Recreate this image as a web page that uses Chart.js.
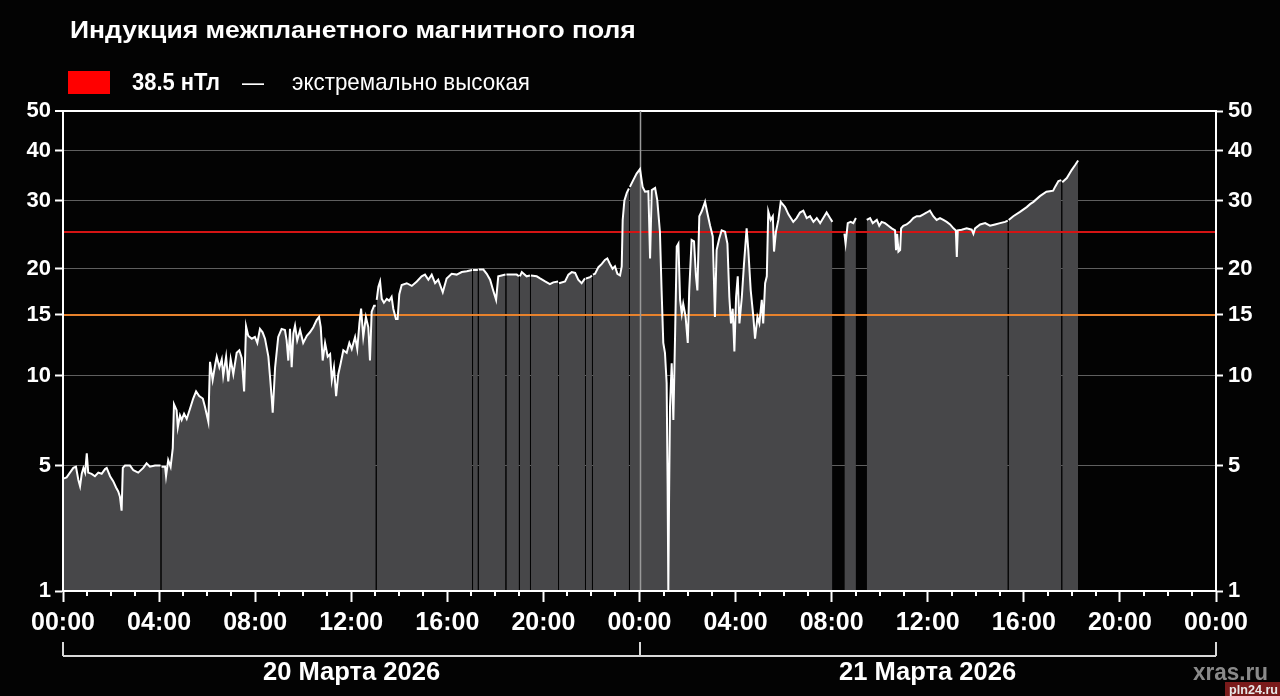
<!DOCTYPE html>
<html lang="ru">
<head>
<meta charset="utf-8">
<title>Индукция межпланетного магнитного поля</title>
<script src="https://cdn.jsdelivr.net/npm/chart.js@4.4.1/dist/chart.umd.min.js"></script>
<style>
html,body{margin:0;padding:0;background:#000;}
#wrap{position:relative;width:1280px;height:696px;overflow:hidden;background:#030303;
  font-family:"Liberation Sans",Arial,sans-serif;color:#fff;}
#wrap canvas{position:absolute;left:0;top:0;}
.t{position:absolute;line-height:1;white-space:nowrap;transform-origin:0 0;}
.b{font-weight:bold;}
#swatch{position:absolute;left:68px;top:71px;width:42px;height:23px;background:#ff0000;}
#pln{position:absolute;left:1225px;top:682px;width:55px;height:14px;background:#7a1b1b;}
</style>
</head>
<body>
<div id="wrap">
  <canvas id="imfChart" width="1280" height="696"></canvas>
  <div class="t b" id="title" style="left:70px;top:19px;font-size:23px" data-fit="566">Индукция межпланетного магнитного поля</div>
  <div id="swatch"></div>
  <div class="t b" id="current" style="left:132px;top:70px;font-size:24px" data-fit="88"></div>
  <div class="t" style="left:242px;top:70px;font-size:24px" data-fit="22">—</div>
  <div class="t" id="level" style="left:292px;top:70px;font-size:24px" data-fit="238"></div>
  <div class="t b" id="date1" style="left:263px;top:659px;font-size:25px" data-fit="177"></div>
  <div class="t b" id="date2" style="left:839px;top:659px;font-size:25px" data-fit="177"></div>
  <div class="t b" style="left:1193px;top:660px;font-size:24px;color:#8a8a8a" data-fit="75">xras.ru</div>
  <div id="pln"></div>
  <div class="t b" style="left:1229px;top:684px;font-size:12px;color:#e8e8e8" data-fit="49">pln24.ru</div>
</div>
<script>
/* ------------- ДАННЫЕ ------------- */
// [часы от 20.03.2026 00:00, нТл]; null = пропуск данных
const DAY1 = [
  [0.01,4.45],[0.15,4.5],[0.43,4.9],[0.54,4.95],[0.64,4.4],[0.71,4.15],[0.78,4.65],[0.85,4.9],[0.92,4.7],[0.99,5.55],
  [1.05,4.7],[1.19,4.65],[1.33,4.55],[1.47,4.7],[1.61,4.65],[1.75,4.85],[1.82,4.9],[1.96,4.55],[2.09,4.35],[2.21,4.1],
  [2.30,3.95],[2.37,3.75],[2.44,3.25],[2.49,4.9],[2.58,5.0],[2.79,5.0],[2.93,4.8],[3.13,4.7],[3.34,4.9],[3.48,5.1],
  [3.62,4.95],[3.83,5.0],[4.06,5.0],[4.08,null],[4.10,4.95],[4.25,4.95],[4.29,4.55],[4.38,5.25],[4.48,4.95],[4.57,5.8],
  [4.62,8.15],[4.73,7.8],[4.78,6.85],[4.87,7.5],[4.94,7.25],[5.04,7.6],[5.15,7.3],[5.29,7.9],[5.42,8.5],[5.54,8.95],
  [5.67,8.65],[5.82,8.5],[5.91,8.0],[6.05,7.15],[6.12,11.0],[6.23,9.7],[6.33,10.75],[6.40,11.4],[6.51,10.6],[6.61,11.2],
  [6.67,10.0],[6.79,11.4],[6.88,9.6],[6.98,11.2],[7.09,10.1],[7.23,11.7],[7.34,11.9],[7.44,11.3],[7.54,8.95],[7.62,13.95],
  [7.71,13.1],[7.86,12.85],[7.99,13.0],[8.09,12.5],[8.20,13.7],[8.31,13.4],[8.41,12.85],[8.55,11.4],[8.62,9.9],[8.69,8.5],
  [8.73,7.65],[8.83,10.6],[8.96,13.0],[9.10,13.7],[9.24,13.6],[9.31,12.7],[9.38,11.1],[9.45,13.7],[9.52,10.6],[9.59,13.3],
  [9.66,14.0],[9.75,12.7],[9.87,13.6],[10.00,12.5],[10.15,13.1],[10.28,13.4],[10.42,13.85],[10.56,14.5],[10.66,14.8],[10.73,13.85],
  [10.81,11.1],[10.91,12.5],[11.02,11.4],[11.12,11.6],[11.19,9.7],[11.28,10.6],[11.37,8.65],[11.46,10.1],[11.56,10.9],[11.67,11.9],
  [11.81,11.7],[11.92,12.5],[12.02,12.0],[12.16,13.0],[12.25,12.0],[12.34,14.2],[12.41,15.6],[12.50,13.0],[12.61,14.8],[12.71,13.85],
  [12.78,11.1],[12.85,15.3],[12.95,15.9],[13.02,15.9],[13.04,null],[13.06,16.5],[13.13,17.9],[13.20,18.5],[13.27,16.6],[13.36,16.2],
  [13.48,16.6],[13.58,16.4],[13.68,16.8],[13.75,15.6],[13.86,14.6],[13.93,14.6],[14.00,17.1],[14.10,18.1],[14.31,18.3],[14.52,18.0],
  [14.73,18.5],[14.93,19.1],[15.07,19.3],[15.21,18.7],[15.35,19.3],[15.49,18.3],[15.62,18.7],[15.81,17.3],[15.97,18.85],[16.18,19.4],
  [16.39,19.3],[16.60,19.6],[16.81,19.7],[17.03,19.85],[17.05,null],[17.07,19.85],[17.27,19.85],[17.29,null],[17.31,19.9],[17.50,19.9],
  [17.64,19.4],[17.78,18.7],[17.91,17.5],[18.03,16.5],[18.12,19.1],[18.26,19.2],[18.42,19.3],[18.44,null],[18.46,19.3],[18.68,19.3],
  [18.89,19.3],[18.98,19.1],[19.00,null],[19.02,19.1],[19.10,19.6],[19.30,19.1],[19.44,19.2],[19.46,null],[19.48,19.2],[19.72,19.1],
  [19.86,18.85],[20.07,18.5],[20.27,18.2],[20.41,18.4],[20.61,18.5],[20.63,null],[20.65,18.3],[20.90,18.5],[21.04,19.3],[21.18,19.6],
  [21.32,19.5],[21.45,18.7],[21.59,18.3],[21.73,18.85],[21.75,null],[21.77,18.85],[21.94,19.0],[22.02,19.2],[22.04,null],[22.06,19.3],
  [22.15,19.4],[22.29,20.2],[22.43,20.6],[22.56,21.1],[22.66,21.3],[22.77,20.6],[22.88,20.0],[22.98,20.3],[23.08,19.4],[23.19,19.2],
  [23.26,20.3],[23.30,26.8],[23.37,30.0],[23.47,31.4],[23.56,32.2],[23.58,null],[23.60,32.5],[23.74,33.8],[23.88,35.1]
];
const DAY2 = [
  [24.02,36.0],[24.13,32.5],[24.23,31.6],[24.37,31.7],[24.44,21.3],[24.51,31.9],[24.65,32.3],[24.74,30.1],[24.85,25.0],[24.92,17.5],
  [24.99,12.5],[25.06,11.7],[25.13,9.5],[25.17,4.25],[25.20,1.0],[25.23,3.63],[25.27,8.0],[25.34,10.9],[25.41,7.25],[25.48,13.0],
  [25.55,22.9],[25.62,23.3],[25.69,16.5],[25.76,15.1],[25.82,16.1],[25.92,14.8],[26.01,12.5],[26.07,17.5],[26.17,23.8],[26.27,23.6],
  [26.35,19.1],[26.41,17.5],[26.49,27.4],[26.59,28.2],[26.73,29.8],[26.82,28.0],[26.94,25.9],[27.05,24.3],[27.14,14.8],[27.21,22.4],
  [27.32,24.0],[27.42,25.2],[27.56,25.0],[27.66,23.3],[27.74,16.8],[27.81,14.2],[27.88,15.6],[27.95,11.8],[28.02,16.8],[28.09,19.1],
  [28.16,14.2],[28.26,16.8],[28.35,20.6],[28.46,25.5],[28.53,22.4],[28.63,17.5],[28.74,14.8],[28.81,12.85],[28.91,14.8],[28.99,14.2],
  [29.09,16.5],[29.15,14.2],[29.23,18.3],[29.30,19.1],[29.36,28.2],[29.46,26.8],[29.55,27.4],[29.60,22.2],[29.68,25.0],[29.78,26.8],
  [29.88,29.8],[30.06,28.9],[30.20,27.7],[30.40,26.5],[30.54,27.1],[30.68,28.0],[30.82,28.3],[30.96,27.1],[31.10,27.4],[31.24,26.5],
  [31.38,27.1],[31.52,26.3],[31.65,27.1],[31.79,28.0],[31.93,27.1],[32.03,26.5],[32.25,null],[32.53,24.7],[32.58,23.3],[32.67,26.3],
  [32.79,26.5],[32.90,26.3],[33.01,27.1],[33.20,null],[33.46,26.8],[33.60,27.1],[33.71,26.3],[33.88,26.8],[33.98,25.9],[34.08,26.5],
  [34.22,26.3],[34.36,25.9],[34.50,25.5],[34.64,25.2],[34.68,22.4],[34.73,24.7],[34.78,22.2],[34.85,22.4],[34.89,25.5],[34.98,25.9],
  [35.12,26.1],[35.26,26.5],[35.40,27.1],[35.54,27.4],[35.68,27.4],[35.82,27.7],[35.96,28.0],[36.09,28.3],[36.23,27.4],[36.37,26.8],
  [36.51,27.1],[36.65,26.8],[36.79,26.5],[36.93,26.1],[37.07,25.5],[37.17,25.2],[37.21,21.5],[37.25,25.2],[37.41,25.3],[37.62,25.5],
  [37.83,25.3],[37.90,24.7],[37.97,25.5],[38.18,26.1],[38.39,26.3],[38.59,25.9],[38.80,26.1],[39.01,26.3],[39.22,26.5],[39.33,26.7],
  [39.35,null],[39.37,26.8],[39.56,27.4],[39.84,28.1],[40.12,28.9],[40.26,29.4],[40.40,29.8],[40.67,30.8],[40.94,31.6],[41.08,31.7],
  [41.22,31.8],[41.30,32.5],[41.44,33.6],[41.56,33.8],[41.58,null],[41.60,33.4],[41.79,34.2],[41.99,35.8],[42.13,36.8],[42.26,37.8]
];
const Y_TICKS = [1, 5, 10, 15, 20, 30, 40, 50];
const X_LABELS = ["00:00","04:00","08:00","12:00","16:00","20:00","00:00",
                  "04:00","08:00","12:00","16:00","20:00","00:00"];
const DATE_LABELS = ["20 Марта 2026", "21 Марта 2026"];
const LEVEL_HIGH = 15;      // оранжевая линия
const LEVEL_EXTREME = 25;   // красная линия
const CURRENT_TEXT = "38.5 нТл";
const LEVEL_TEXT = "экстремально высокая";

/* ---------- шкала Y: log(v + SHIFT) ---------- */
const SHIFT = 3.3;
class ShiftedLogScale extends Chart.LinearScale {
  static id = "shiftedLog";
  determineDataLimits(){ this.min = this.options.min; this.max = this.options.max; }
  buildTicks(){ return Y_TICKS.map(v => ({value: v})); }
  configure(){
    super.configure();
    this._lo = Math.log10(this.min + SHIFT);
    this._span = Math.log10(this.max + SHIFT) - this._lo;
  }
  getPixelForValue(v){
    return this.getPixelForDecimal((Math.log10(v + SHIFT) - this._lo) / this._span);
  }
  getValueForPixel(p){
    return Math.pow(10, this._lo + this.getDecimalForPixel(p) * this._span) - SHIFT;
  }
}
Chart.register(ShiftedLogScale);

/* ---------- линии поверх заливки, мелкие риски, скобка дат ---------- */
const overlay = {
  id: "overlay",
  beforeDatasetsDraw(chart){
    const {ctx, chartArea: a, scales: {x, y}} = chart;
    ctx.save();
    [[LEVEL_HIGH, "#e8822c"], [LEVEL_EXTREME, "#d41414"]].forEach(([v, c]) => {
      const py = Math.round(y.getPixelForValue(v));
      ctx.strokeStyle = c; ctx.lineWidth = 2;
      ctx.beginPath(); ctx.moveTo(a.left, py); ctx.lineTo(a.right, py); ctx.stroke();
    });
    const mx = Math.round(x.getPixelForValue(24)) + 0.5;
    ctx.strokeStyle = "#9a9a9a"; ctx.lineWidth = 1.5;
    ctx.beginPath(); ctx.moveTo(mx, a.top); ctx.lineTo(mx, a.bottom); ctx.stroke();
    ctx.restore();
  },
  afterDraw(chart){
    const {ctx, chartArea: a, scales: {x}} = chart;
    ctx.save();
    ctx.strokeStyle = "#fff"; ctx.lineWidth = 2;
    for (let h = 0; h <= 48; h++){
      if (h % 4 === 0) continue;
      const px = Math.round(x.getPixelForValue(h));
      ctx.beginPath(); ctx.moveTo(px, a.bottom); ctx.lineTo(px, a.bottom + 5); ctx.stroke();
    }
    ctx.strokeStyle = "#d8d8d8";
    const yb = 656;
    ctx.beginPath(); ctx.moveTo(x.getPixelForValue(0), yb); ctx.lineTo(x.getPixelForValue(48), yb); ctx.stroke();
    [0, 24, 48].forEach(h => {
      const px = Math.round(x.getPixelForValue(h));
      ctx.beginPath(); ctx.moveTo(px, yb - 14); ctx.lineTo(px, yb); ctx.stroke();
    });
    ctx.restore();
  }
};

/* ------------- график ------------- */
Chart.defaults.font.family = "'Liberation Sans', Arial, sans-serif";
Chart.defaults.color = "#fff";

const points = DAY1.concat(DAY2).map(([h, v]) => ({x: h, y: v}));
const bold = size => ({size, weight: "bold"});

new Chart(document.getElementById("imfChart"), {
  type: "line",
  data: {
    datasets: [{
      label: "Bt",
      data: points,
      yAxisID: "y",
      borderColor: "#ffffff",
      borderWidth: 2,
      backgroundColor: "#474749",
      fill: "start",
      pointRadius: 0,
      tension: 0,
      spanGaps: false
    }]
  },
  options: {
    responsive: false,
    animation: false,
    events: [],
    layout: {padding: {top: 111, bottom: 55, left: 0, right: 0}},
    plugins: {
      legend: {display: false},
      tooltip: {enabled: false},
      filler: {drawTime: "beforeDatasetsDraw"}
    },
    scales: {
      x: {
        type: "linear", min: 0, max: 48,
        ticks: {stepSize: 4, autoSkip: false, maxRotation: 0, padding: 6,
                font: bold(25), color: "#fff",
                callback: v => X_LABELS[Math.round(v / 4)]},
        grid: {drawOnChartArea: false, tickLength: 11, tickColor: "#fff", tickWidth: 2},
        border: {color: "#fff", width: 2, z: 1},
        afterFit: s => { s.height = 50; }
      },
      y: {
        type: "shiftedLog", position: "left", min: 1, max: 50,
        ticks: {padding: 4, font: bold(22), color: "#fff", callback: v => String(v)},
        grid: {
          color: c => (c.tick && c.tick.value === 50) ? "#ffffff" : "#5f5f5f",
          lineWidth: c => (c.tick && c.tick.value === 50) ? 2 : 1,
          tickColor: "#fff", tickLength: 8, tickWidth: 2
        },
        border: {color: "#fff", width: 2, z: 1},
        afterFit: s => { s.width = 63; }
      },
      y2: {
        type: "shiftedLog", position: "right", min: 1, max: 50,
        ticks: {padding: 5, font: bold(22), color: "#fff", callback: v => String(v)},
        grid: {drawOnChartArea: false, tickColor: "#fff", tickLength: 7, tickWidth: 2},
        border: {color: "#fff", width: 2, z: 1},
        afterFit: s => { s.width = 64; }
      }
    }
  },
  plugins: [overlay]
});

/* ------------- подписи ------------- */
document.getElementById("current").textContent = CURRENT_TEXT;
document.getElementById("level").textContent = LEVEL_TEXT;
document.getElementById("date1").textContent = DATE_LABELS[0];
document.getElementById("date2").textContent = DATE_LABELS[1];

function fitTexts(){
  document.querySelectorAll("[data-fit]").forEach(el => {
    el.style.transform = "none";
    const w = el.getBoundingClientRect().width;
    if (w > 0) el.style.transform = `scaleX(${(+el.dataset.fit / w).toFixed(3)})`;
  });
}
fitTexts();
if (document.fonts) document.fonts.ready.then(fitTexts);
</script>
</body>
</html>
